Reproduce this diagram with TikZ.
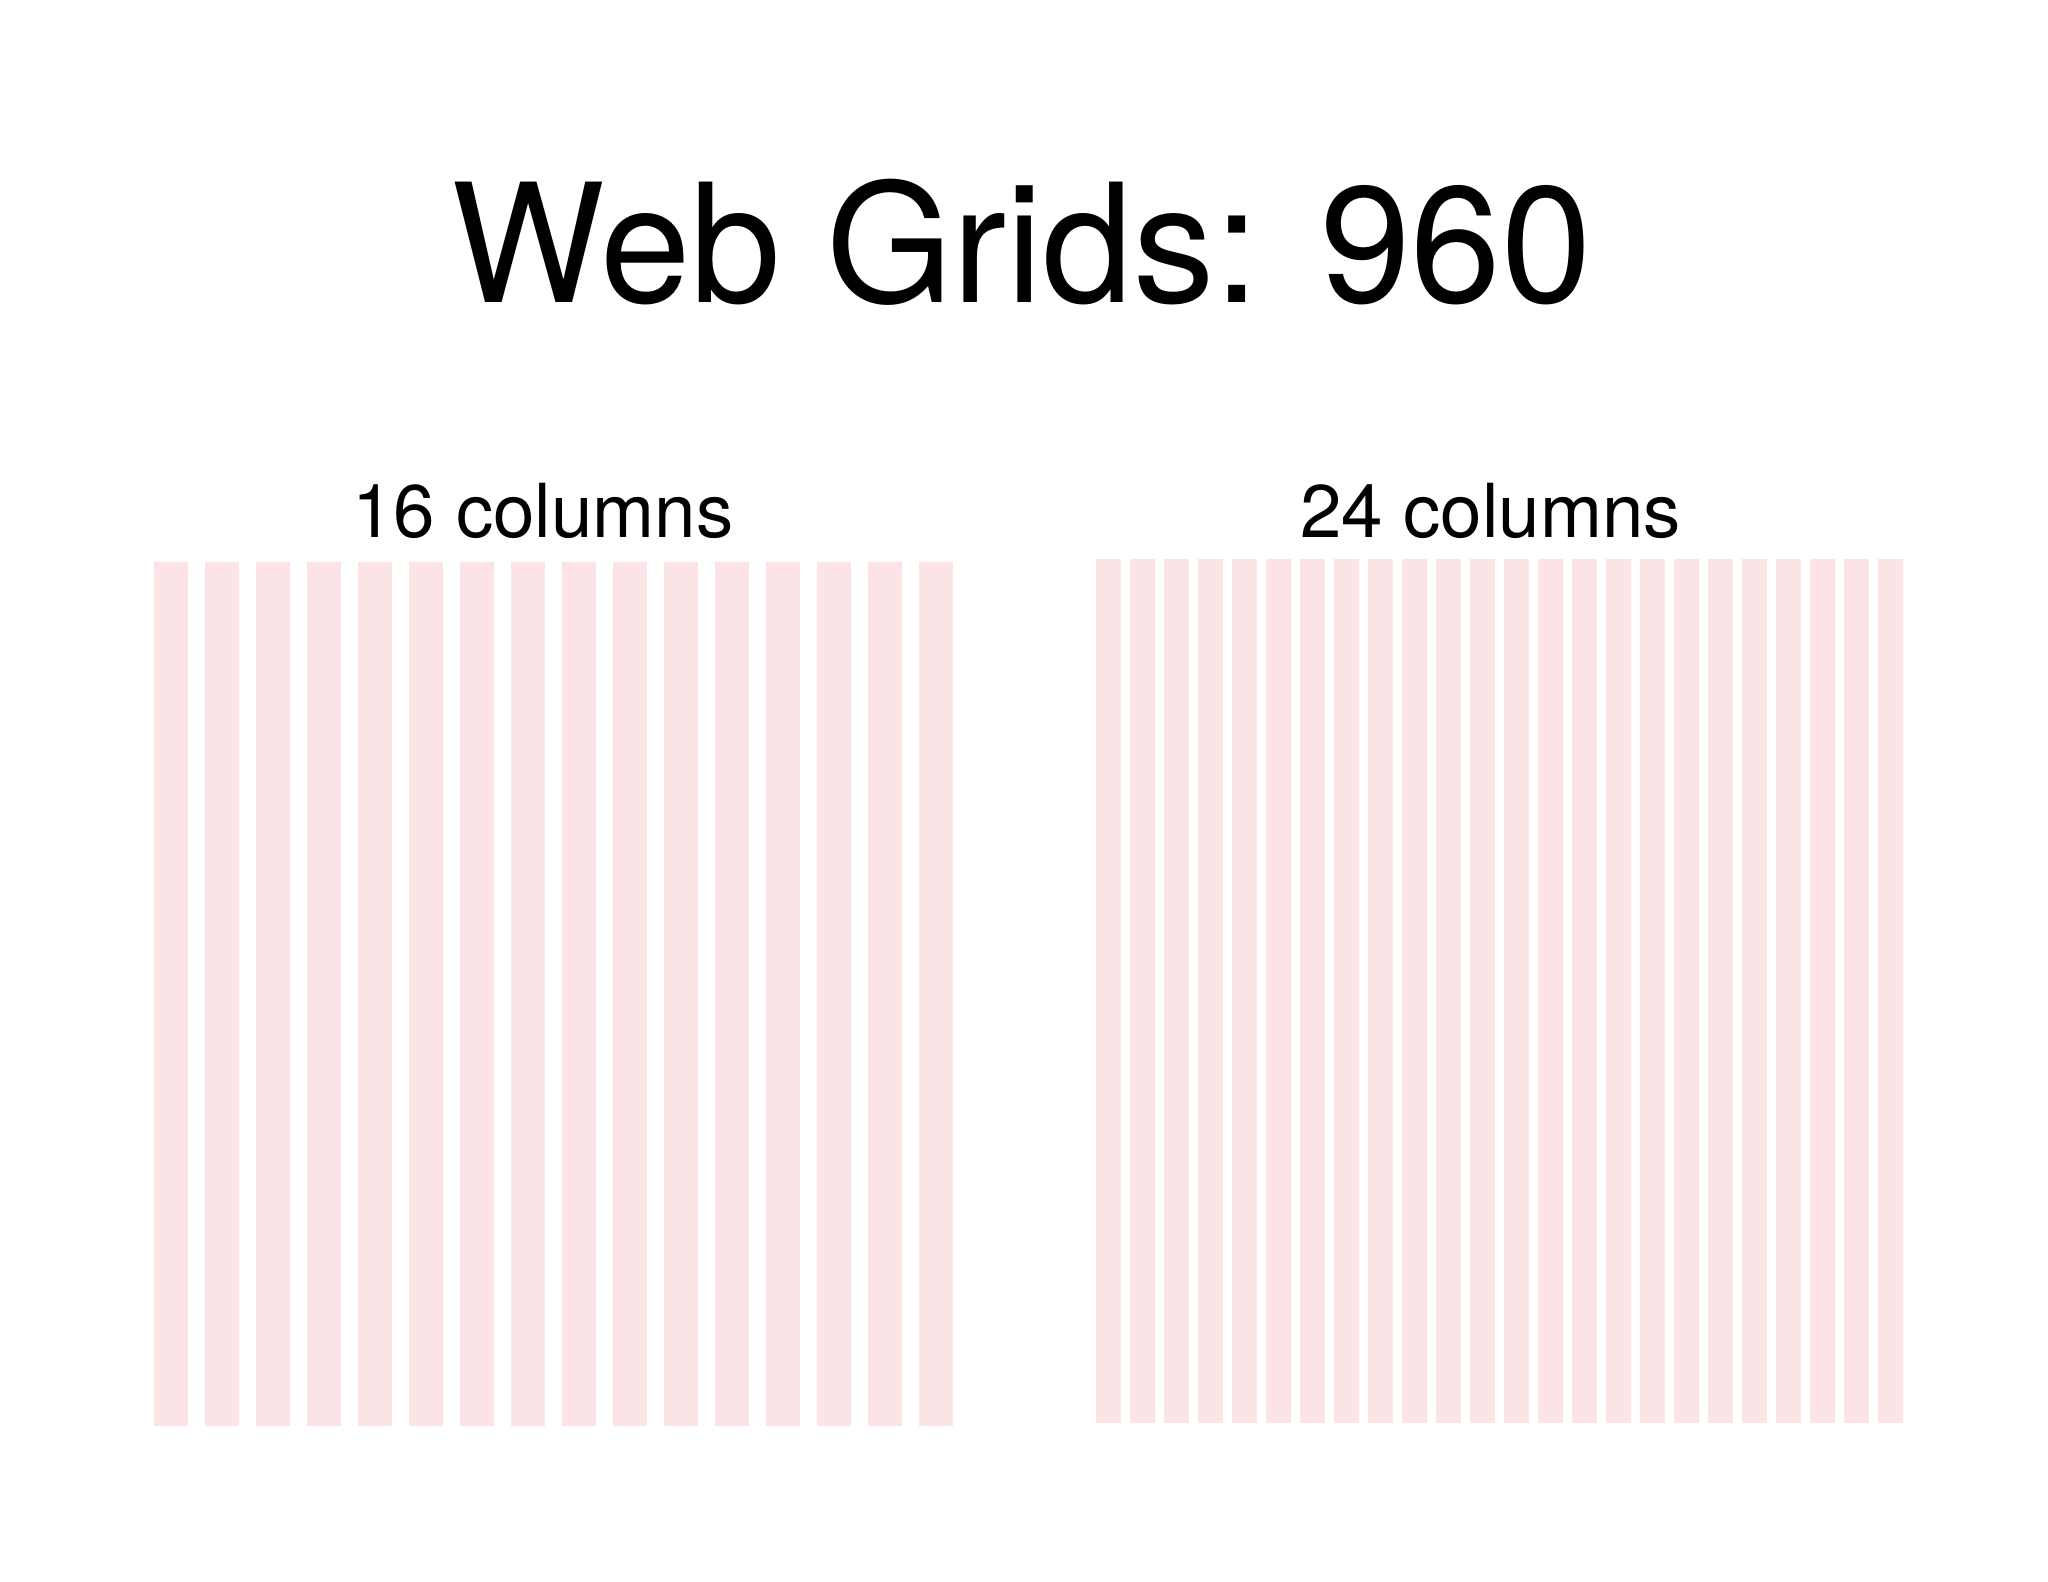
\documentclass[tikz,border=0pt]{standalone}
\usepackage{fontspec}
\setmainfont{TeX Gyre Heros}
\usetikzlibrary{positioning}
\definecolor{gridpink}{RGB}{252,227,229}
\tikzset{
	gridcol/.style={fill=gridpink, draw=none},
	heading/.style={inner sep=0pt, anchor=base, xscale=0.985, font=\fontsize{47}{50}\selectfont},
	sublabel/.style={inner sep=0pt, anchor=base, font=\fontsize{21.2}{24}\selectfont}
}
\begin{document}
\begin{tikzpicture}
		\useasboundingbox[fill=white] (0,0) rectangle (20.48,15.82);
		% 标题
		\node[heading] (title) at (10.215,12.79) {Web Grids: 960};
		% 左：16 栏，栏宽 40 + 间距 20
		\foreach \i in {0,...,15}
			\fill[gridcol] ({1.54+0.51*\i},1.56) rectangle ++(0.34,8.64);
		\node[sublabel] (left) at (5.43,10.44) {16 columns};
		% 右：24 栏，栏宽 30 + 间距 10
		\foreach \i in {0,...,23}
			\fill[gridcol] ({10.957+0.34*\i},1.59) rectangle ++(0.255,8.64);
		\node[sublabel] (right) at (14.905,10.44) {24 columns};
	\end{tikzpicture}
\end{document}
